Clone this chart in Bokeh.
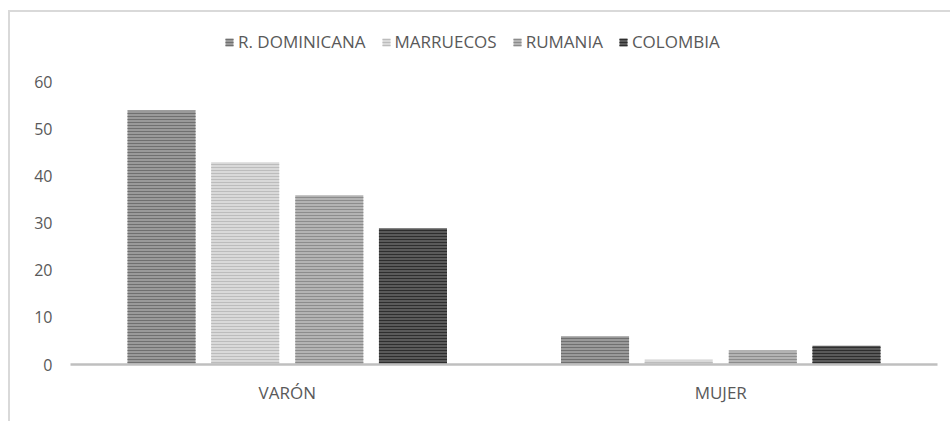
from bokeh.plotting import figure
from bokeh.models import ColumnDataSource, Range1d, FixedTicker, Legend
from bokeh.transform import dodge
from bokeh.embed import file_html
from bokeh.resources import INLINE

categories = ["VARÓN", "MUJER"]
series_names = ["R. DOMINICANA", "MARRUECOS", "RUMANIA", "COLOMBIA"]
dominicana = [54, 6]
marruecos = [43, 1]
rumania = [36, 3]
colombia = [29, 4]
y_ticks = [0, 10, 20, 30, 40, 50, 60]

source = ColumnDataSource(dict(cat=categories, dom=dominicana, mar=marruecos, rum=rumania, col=colombia))

FONT = "Open Sans"
TXT = "#595959"

p = figure(x_range=categories, y_range=Range1d(0, 72.1), width=942, height=411,
           output_backend="svg", toolbar_location=None,
           min_border_left=60, min_border_right=15, min_border_top=13, min_border_bottom=59)
p.styles = {"border-top": "2px solid #d9d9d9", "border-left": "2px solid #d9d9d9",
            "margin-left": "8px", "margin-top": "10px"}
p.outline_line_color = None
p.xgrid.grid_line_color = None
p.ygrid.grid_line_color = None
p.x_range.range_padding = 0

styles = [
    ("dom", "#9a9a9a", "#707070"),
    ("mar", "#d9d9d9", "#bcbcbc"),
    ("rum", "#b3b3b3", "#8c8c8c"),
    ("col", "#5a5a5a", "#2e2e2e"),
]
offsets = [-0.29, -0.097, 0.097, 0.29]
renderers = []
for (col, fc, hc), off, name in zip(styles, offsets, series_names):
    r = p.vbar(x=dodge("cat", off, range=p.x_range), top=col, width=0.157, source=source,
               fill_color=fc, line_color=None, hatch_pattern="horizontal_line",
               hatch_color=hc, hatch_scale=3, hatch_weight=1)
    renderers.append((name, [r]))

legend = Legend(items=renderers, orientation="horizontal", location=(154, 311),
                margin=0, padding=6, spacing=15, label_standoff=4,
                glyph_width=10, glyph_height=10,
                label_text_font=FONT, label_text_font_size="17px", label_text_color=TXT,
                border_line_color=None, background_fill_alpha=0)
p.add_layout(legend)

p.yaxis.ticker = FixedTicker(ticks=y_ticks)
p.yaxis.axis_line_color = None
p.yaxis.major_tick_line_color = None
p.yaxis.minor_tick_line_color = None
p.yaxis.major_tick_out = 0
p.yaxis.major_label_standoff = 18
p.yaxis.major_label_text_font = FONT
p.yaxis.major_label_text_font_size = "16px"
p.yaxis.major_label_text_color = TXT

p.xaxis.axis_line_color = "#bfbfbf"
p.xaxis.axis_line_width = 2.5
p.xaxis.major_tick_line_color = None
p.xaxis.minor_tick_line_color = None
p.xaxis.major_tick_out = 0
p.xaxis.major_label_standoff = 16
p.xaxis.major_label_text_font = FONT
p.xaxis.major_label_text_font_size = "17px"
p.xaxis.major_label_text_color = TXT

open("out.html", "w").write(file_html(p, INLINE))
